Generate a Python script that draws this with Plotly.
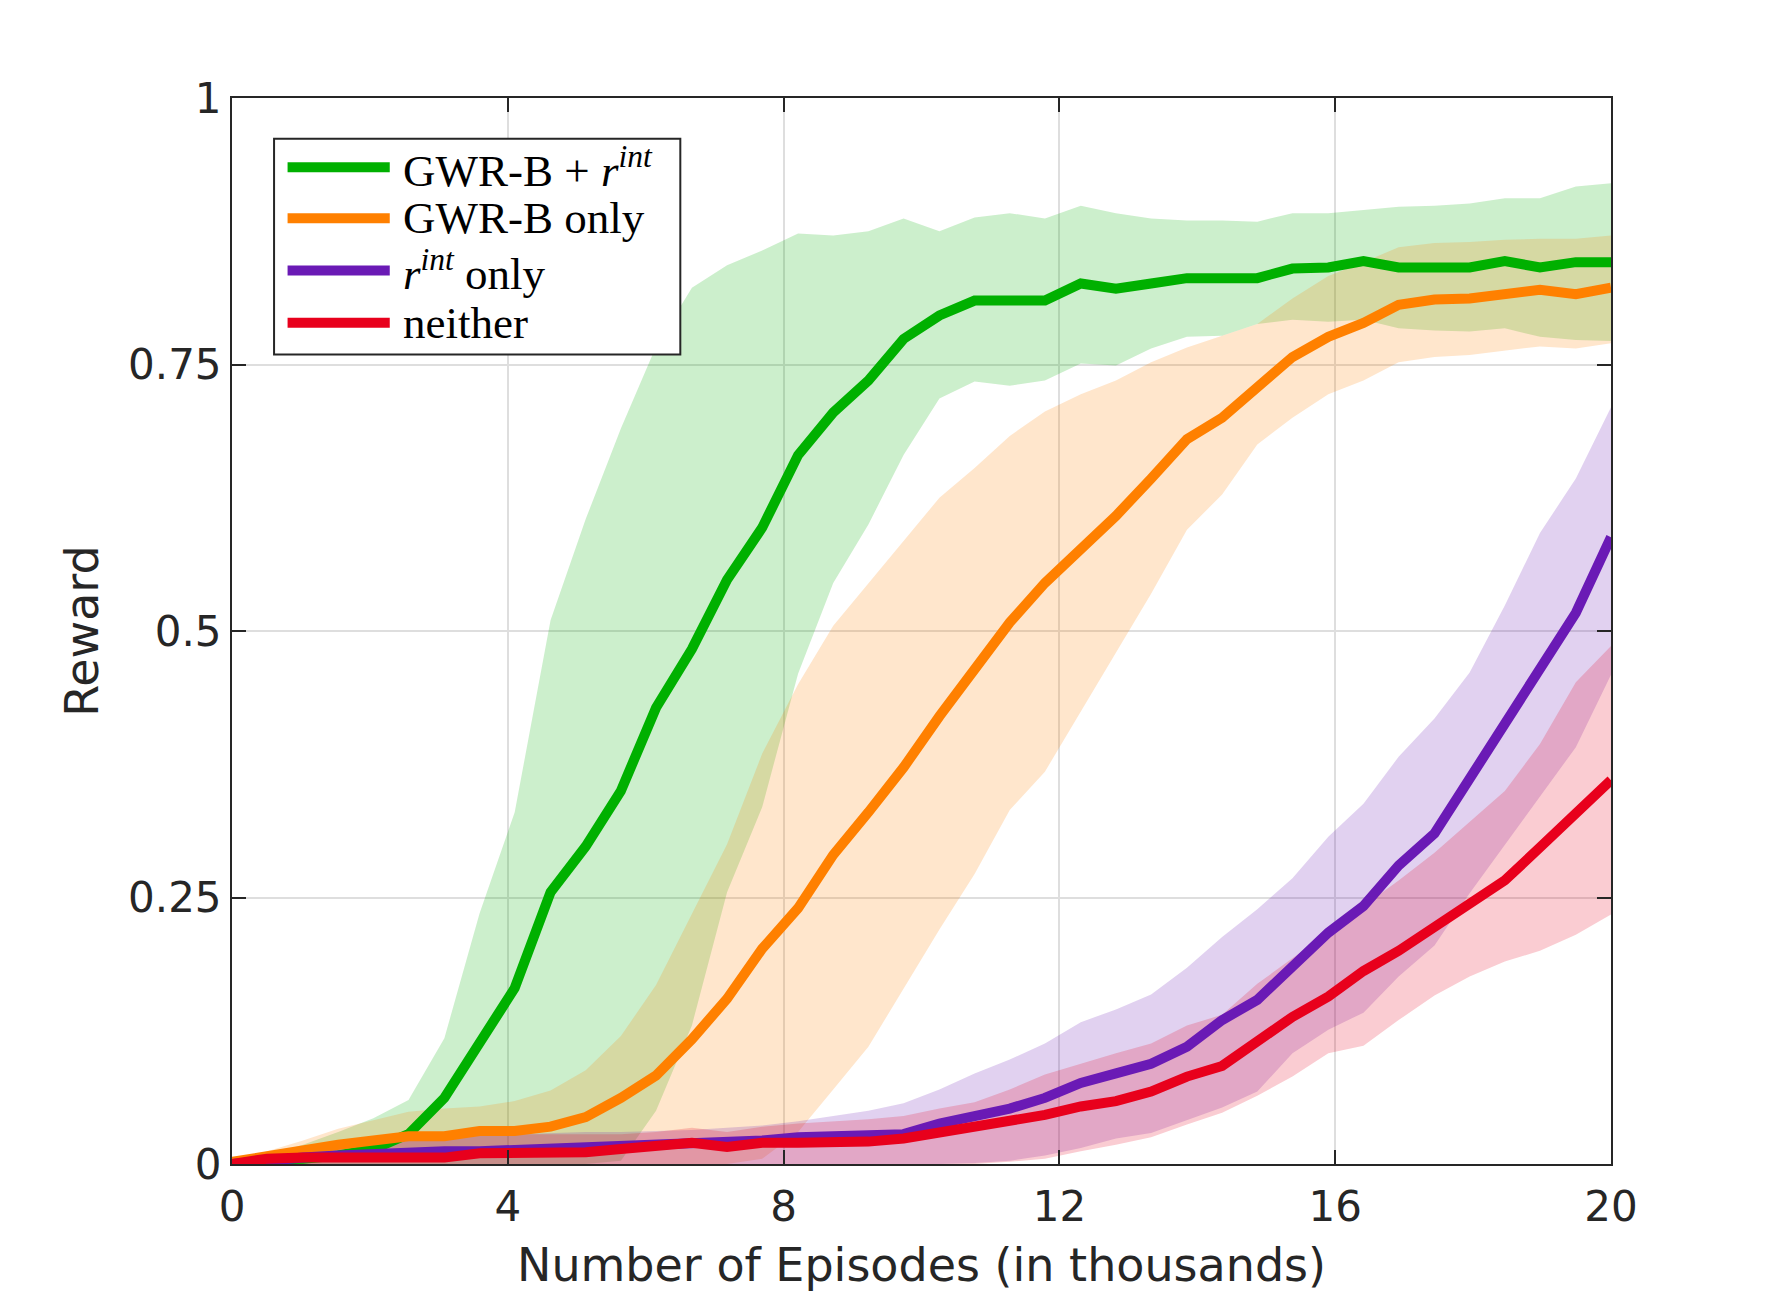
import plotly.graph_objects as go

# episodes (thousands) - 40 evaluation points
episodes = [0.0, 0.51, 1.03, 1.54, 2.05, 2.56, 3.08, 3.59, 4.10, 4.62,
            5.13, 5.64, 6.15, 6.67, 7.18, 7.69, 8.21, 8.72, 9.23, 9.74,
            10.26, 10.77, 11.28, 11.79, 12.31, 12.82, 13.33, 13.85, 14.36, 14.87,
            15.38, 15.90, 16.41, 16.92, 17.44, 17.95, 18.46, 18.97, 19.49, 20.0]

# GWR-B + r^int
green_mean = [0.0, 0.004, 0.005, 0.008, 0.014, 0.028, 0.062, 0.113, 0.165, 0.255,
              0.298, 0.35, 0.428, 0.483, 0.548, 0.597, 0.665, 0.705, 0.735, 0.774,
              0.796, 0.81, 0.81, 0.81, 0.826, 0.821, 0.826, 0.831, 0.831, 0.831,
              0.84, 0.841, 0.847, 0.841, 0.841, 0.841, 0.847, 0.841, 0.846, 0.846]
green_upper = [0.0, 0.008, 0.018, 0.03, 0.043, 0.06, 0.118, 0.235, 0.33, 0.51,
               0.605, 0.69, 0.767, 0.822, 0.843, 0.857, 0.873, 0.871, 0.875, 0.887,
               0.875, 0.888, 0.892, 0.887, 0.899, 0.892, 0.887, 0.885, 0.885, 0.884,
               0.892, 0.892, 0.895, 0.898, 0.899, 0.901, 0.906, 0.906, 0.917, 0.92]
green_lower = [0.0, 0.0, 0.0, 0.0, 0.0, 0.0, 0.0, 0.0, 0.0, 0.0,
               0.0, 0.003, 0.05, 0.13, 0.255, 0.335, 0.46, 0.545, 0.6, 0.665,
               0.718, 0.734, 0.73, 0.735, 0.751, 0.749, 0.765, 0.776, 0.777, 0.788,
               0.792, 0.79, 0.792, 0.784, 0.782, 0.781, 0.784, 0.776, 0.773, 0.772]

# GWR-B only
orange_mean = [0.002, 0.008, 0.013, 0.018, 0.022, 0.026, 0.026, 0.031, 0.031, 0.035,
               0.044, 0.062, 0.083, 0.117, 0.155, 0.202, 0.24, 0.29, 0.33, 0.372,
               0.42, 0.466, 0.508, 0.545, 0.577, 0.608, 0.643, 0.68, 0.70, 0.729,
               0.757, 0.776, 0.789, 0.806, 0.811, 0.812, 0.817, 0.82, 0.816, 0.822]
orange_upper = [0.002, 0.012, 0.022, 0.033, 0.041, 0.049, 0.052, 0.054, 0.059, 0.069,
                0.088, 0.12, 0.168, 0.235, 0.30, 0.385, 0.45, 0.505, 0.545, 0.585,
                0.625, 0.653, 0.683, 0.706, 0.722, 0.735, 0.752, 0.766, 0.777, 0.788,
                0.812, 0.833, 0.846, 0.86, 0.864, 0.865, 0.867, 0.868, 0.868, 0.871]
orange_lower = [0.0, 0.0, 0.0, 0.0, 0.0, 0.0, 0.0, 0.0, 0.0, 0.0,
                0.0, 0.0, 0.0, 0.0, 0.0, 0.005, 0.03, 0.07, 0.11, 0.165,
                0.22, 0.272, 0.332, 0.368, 0.425, 0.48, 0.535, 0.595, 0.628, 0.675,
                0.70, 0.722, 0.735, 0.752, 0.757, 0.759, 0.763, 0.767, 0.765, 0.77]

# r^int only
purple_mean = [0.0, 0.004, 0.006, 0.008, 0.01, 0.012, 0.012, 0.012, 0.013, 0.015,
               0.015, 0.016, 0.017, 0.018, 0.02, 0.022, 0.025, 0.026, 0.026, 0.028,
               0.038, 0.044, 0.052, 0.062, 0.076, 0.085, 0.094, 0.11, 0.135, 0.154,
               0.184, 0.217, 0.242, 0.28, 0.31, 0.362, 0.414, 0.466, 0.517, 0.588]
purple_upper = [0.0, 0.006, 0.012, 0.018, 0.022, 0.025, 0.027, 0.028, 0.028, 0.029,
                0.03, 0.03, 0.031, 0.032, 0.034, 0.036, 0.04, 0.045, 0.05, 0.057,
                0.07, 0.085, 0.098, 0.113, 0.133, 0.145, 0.159, 0.184, 0.213, 0.239,
                0.268, 0.307, 0.338, 0.382, 0.418, 0.461, 0.524, 0.592, 0.643, 0.71]
purple_lower = [0.0, 0.0, 0.0, 0.0, 0.0, 0.0, 0.0, 0.0, 0.0, 0.0,
                0.0, 0.0, 0.0, 0.0, 0.0, 0.0, 0.0, 0.0, 0.0, 0.0,
                0.0, 0.001, 0.003, 0.008, 0.015, 0.024, 0.029, 0.041, 0.053, 0.068,
                0.104, 0.126, 0.142, 0.176, 0.205, 0.254, 0.30, 0.345, 0.391, 0.459]

# neither
red_mean = [0.0, 0.005, 0.006, 0.006, 0.006, 0.006, 0.006, 0.01, 0.01, 0.01,
            0.011, 0.014, 0.016, 0.02, 0.016, 0.02, 0.02, 0.02, 0.021, 0.024,
            0.029, 0.034, 0.04, 0.046, 0.054, 0.059, 0.068, 0.082, 0.092, 0.116,
            0.138, 0.157, 0.181, 0.2, 0.222, 0.244, 0.266, 0.297, 0.329, 0.36]
red_upper = [0.0, 0.006, 0.012, 0.018, 0.022, 0.025, 0.027, 0.028, 0.028, 0.028,
             0.028, 0.028, 0.03, 0.034, 0.03, 0.035, 0.038, 0.04, 0.042, 0.045,
             0.052, 0.058, 0.07, 0.084, 0.094, 0.104, 0.113, 0.13, 0.14, 0.169,
             0.193, 0.217, 0.242, 0.266, 0.292, 0.321, 0.35, 0.394, 0.452, 0.486]
red_lower = [0.0, 0.0, 0.0, 0.0, 0.0, 0.0, 0.0, 0.0, 0.0, 0.0,
             0.0, 0.0, 0.0, 0.0, 0.0, 0.0, 0.0, 0.0, 0.0, 0.0,
             0.0, 0.0, 0.002, 0.005, 0.012, 0.018, 0.025, 0.037, 0.048, 0.064,
             0.082, 0.104, 0.111, 0.135, 0.158, 0.176, 0.19, 0.2, 0.215, 0.234]

series = [
    ("GWR-B + <i>r</i><sup><i>int</i></sup>", green_mean, green_upper, green_lower, "#00b000", "rgba(0,176,0,0.2)"),
    ("GWR-B only", orange_mean, orange_upper, orange_lower, "#ff8000", "rgba(255,128,0,0.2)"),
    ("<i>r</i><sup><i>int</i></sup> only", purple_mean, purple_upper, purple_lower, "#6a1ab5", "rgba(106,26,181,0.2)"),
    ("neither", red_mean, red_upper, red_lower, "#e8001c", "rgba(232,0,28,0.2)"),
]

fig = go.Figure()

# shaded bands first so every line sits on top
for name, mean, upper, lower, color, fill in series:
    fig.add_trace(go.Scatter(x=episodes + episodes[::-1], y=upper + lower[::-1],
                             fill='toself', fillcolor=fill, line=dict(width=0),
                             mode='lines', showlegend=False, hoverinfo='skip'))

for name, mean, upper, lower, color, fill in series:
    fig.add_trace(go.Scatter(x=episodes, y=mean, mode='lines', name=name,
                             line=dict(color=color, width=10), showlegend=False))

# legend drawn by hand (MATLAB style: long samples, tight rows)
fig.add_shape(type='rect', xref='paper', yref='paper', x0=0.0305, x1=0.3251,
              y0=0.7593, y1=0.9617, line=dict(color='#262626', width=2),
              fillcolor='white', layer='above')
row_y = [0.9350, 0.8871, 0.8381, 0.7891]
for (name, mean, upper, lower, color, fill), ry in zip(series, row_y):
    fig.add_shape(type='line', xref='paper', yref='paper', x0=0.0403, x1=0.1144,
                  y0=ry, y1=ry, line=dict(color=color, width=10), layer='above')
    fig.add_annotation(x=0.1226, y=ry, xref='paper', yref='paper', text=name,
                       xanchor='left', yanchor='middle', showarrow=False,
                       font=dict(family='Liberation Serif', size=45, color='black'))

axis_style = dict(showline=True, linecolor='#262626', linewidth=2, mirror='ticks',
                  ticks='inside', ticklen=14, tickwidth=2, tickcolor='#262626',
                  showgrid=True, gridcolor='#dedede', gridwidth=1.5, zeroline=False,
                  tickfont=dict(family='DejaVu Sans', size=42, color='#262626'))

fig.update_xaxes(range=[0, 20], tickvals=[0, 4, 8, 12, 16, 20],
                 title=dict(text='Number of Episodes (in thousands)', standoff=18,
                            font=dict(family='DejaVu Sans', size=46, color='#262626')),
                 ticklabelstandoff=5, **axis_style)
fig.update_yaxes(range=[0, 1], tickvals=[0, 0.25, 0.5, 0.75, 1],
                 ticktext=['0', '0.25', '0.5', '0.75', '1'],
                 title=dict(text='Reward', standoff=15,
                            font=dict(family='DejaVu Sans', size=46, color='#262626')),
                 ticklabelstandoff=0, **axis_style)

fig.update_layout(
    width=1781, height=1313,
    margin=dict(l=224, r=178, t=90, b=157),
    plot_bgcolor='white', paper_bgcolor='white',
    showlegend=False,
)

fig.write_html("out.html")
